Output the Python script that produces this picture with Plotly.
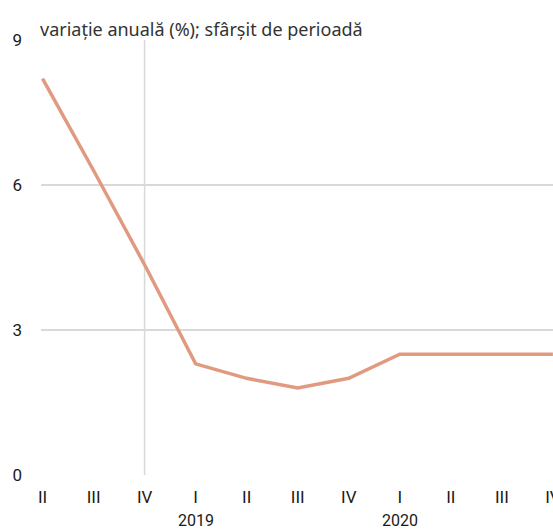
import plotly.graph_objects as go

# Quarterly annual change, end of period
quarters = ["II", "III", "IV", "I", "II", "III", "IV", "I", "II", "III", "IV"]
values = [8.2, 6.3, 4.35, 2.3, 2.0, 1.8, 2.0, 2.5, 2.5, 2.5, 2.5]
year_labels = ["2019", "2020"]
year_positions = [3, 7]
y_ticks = [0, 3, 6, 9]
title_text = "variație anuală (%); sfârșit de perioadă"

x_idx = list(range(len(quarters)))

TICK_FONT = "Roboto, sans-serif"
TITLE_FONT = "Noto Sans, Open Sans, sans-serif"
GRID = "#d9d9d9"

fig = go.Figure()
fig.add_trace(go.Scatter(
    x=x_idx, y=values, mode="lines",
    line=dict(color="#e09a80", width=3.5),
    hoverinfo="skip", showlegend=False,
))

# vertical separator at the last quarter of 2018
fig.add_shape(type="line", xref="x", yref="y", x0=2, x1=2, y0=0, y1=9,
              line=dict(color=GRID, width=1.5), layer="below")

for lab, pos in zip(year_labels, year_positions):
    fig.add_annotation(x=pos, y=0, xref="x", yref="y", text=lab,
                       showarrow=False, yshift=-45,
                       font=dict(family=TICK_FONT, size=16, color="#1a1a1a"))

fig.add_annotation(x=0, y=1, xref="paper", yref="paper", text=title_text,
                   showarrow=False, xanchor="left", yanchor="bottom",
                   xshift=-3, yshift=-3,
                   font=dict(family=TITLE_FONT, size=18, color="#333"))

fig.update_xaxes(
    range=[-0.03, 10.002], tickvals=x_idx, ticktext=quarters,
    showgrid=False, zeroline=False, showline=False, ticks="",
    ticklabelstandoff=10, ticklabeloverflow="allow", automargin=False,
    tickfont=dict(family=TICK_FONT, size=17, color="#1a1a1a"),
    fixedrange=True,
)
fig.update_yaxes(
    range=[0, 9], tickvals=y_ticks, showgrid=True, gridcolor=GRID, gridwidth=1.5,
    zeroline=False, showline=False, ticks="", ticklabelstandoff=18, automargin=False,
    tickfont=dict(family=TICK_FONT, size=17, color="#1a1a1a"),
    fixedrange=True,
)
fig.update_layout(
    width=553, height=530,
    margin=dict(l=41, r=0, t=40, b=55),
    plot_bgcolor="white", paper_bgcolor="white",
)

fig.write_html("out.html")
